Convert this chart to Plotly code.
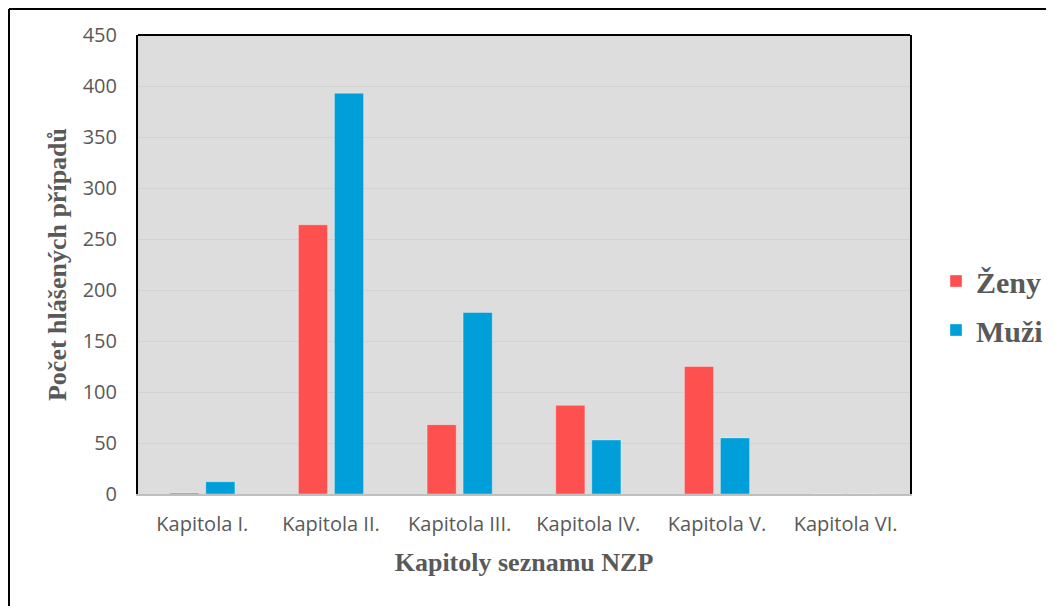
import plotly.graph_objects as go

categories = ["Kapitola I.", "Kapitola II.", "Kapitola III.", "Kapitola IV.", "Kapitola V.", "Kapitola VI."]
zeny = [1, 264, 68, 87, 125, 0]
muzi = [12, 393, 178, 53, 55, 0]
y_ticks = [0, 50, 100, 150, 200, 250, 300, 350, 400, 450]

OFF = 8  # page body margin
W, H = 1054 - OFF, 606 - OFF
# plot area in reference-page pixels: x 138..910, y 35..494
L = 138 - OFF
T = 35 - OFF
R = W - (910 - OFF)
B = H - (494 - OFF)
pw, ph = W - L - R, H - T - B

def px(x):
    return (x - OFF - L) / pw

def py(y):
    return (H - B - (y - OFF)) / ph

fig = go.Figure()
fig.add_trace(go.Bar(x=categories, y=zeny, name="<b>Ženy</b>", legendgroup="z",
                     marker=dict(color="#FF5050", line=dict(color="rgba(255,255,255,0.35)", width=1))))
fig.add_trace(go.Bar(x=categories, y=muzi, name="<b>Muži</b>", legendgroup="m",
                     marker=dict(color="#009FD9", line=dict(color="rgba(255,255,255,0.35)", width=1))))

tick_font = dict(family="Open Sans, Noto Sans, sans-serif", size=20, color="#595959")
title_font = dict(family="Liberation Serif, Times New Roman, serif", size=26, color="#595959")

fig.update_layout(
    width=W, height=H,
    margin=dict(l=L, r=R, t=T, b=B, autoexpand=False),
    paper_bgcolor="white",
    plot_bgcolor="#DDDDDD",
    barmode="group",
    bargap=0.44,
    bargroupgap=0.19,
    showlegend=True,
    legend=dict(x=px(936), y=py(255), xanchor="left", yanchor="top",
                font=dict(family="Liberation Serif, Times New Roman, serif", size=30, color="#595959"),
                tracegroupgap=7, traceorder="grouped", itemwidth=30,
                bgcolor="rgba(0,0,0,0)"),
    xaxis=dict(
        tickfont=tick_font,
        showline=True, linecolor="#BFBFBF", linewidth=2,
        ticks="outside", ticklen=11, tickcolor="rgba(0,0,0,0)",
        showgrid=False,
        title=dict(text="<b>Kapitoly seznamu NZP</b>", font=title_font, standoff=17),
    ),
    yaxis=dict(
        range=[0, 450],
        tickvals=y_ticks,
        tickfont=tick_font,
        showline=True, linecolor="black", linewidth=2, mirror=True,
        ticks="outside", ticklen=15, tickcolor="rgba(0,0,0,0)",
        showgrid=True, gridcolor="#D2D2D2", gridwidth=1,
        zeroline=False,
        title=dict(text="<b>Počet hlášených případů</b>", font=title_font, standoff=9),
    ),
)

# top border of plot area
fig.add_shape(type="line", xref="paper", yref="paper", x0=0, x1=1, y0=1, y1=1,
              line=dict(color="black", width=2))
# outer frame (cropped), drawn at the top-left edge of the figure
fig.add_shape(type="line", xref="paper", yref="paper", x0=px(OFF + 1), x1=px(1070), y0=py(OFF + 1), y1=py(OFF + 1),
              line=dict(color="black", width=2))
fig.add_shape(type="line", xref="paper", yref="paper", x0=px(OFF + 1), x1=px(OFF + 1), y0=py(OFF + 1), y1=py(620),
              line=dict(color="black", width=2))

fig.write_html("out.html")
